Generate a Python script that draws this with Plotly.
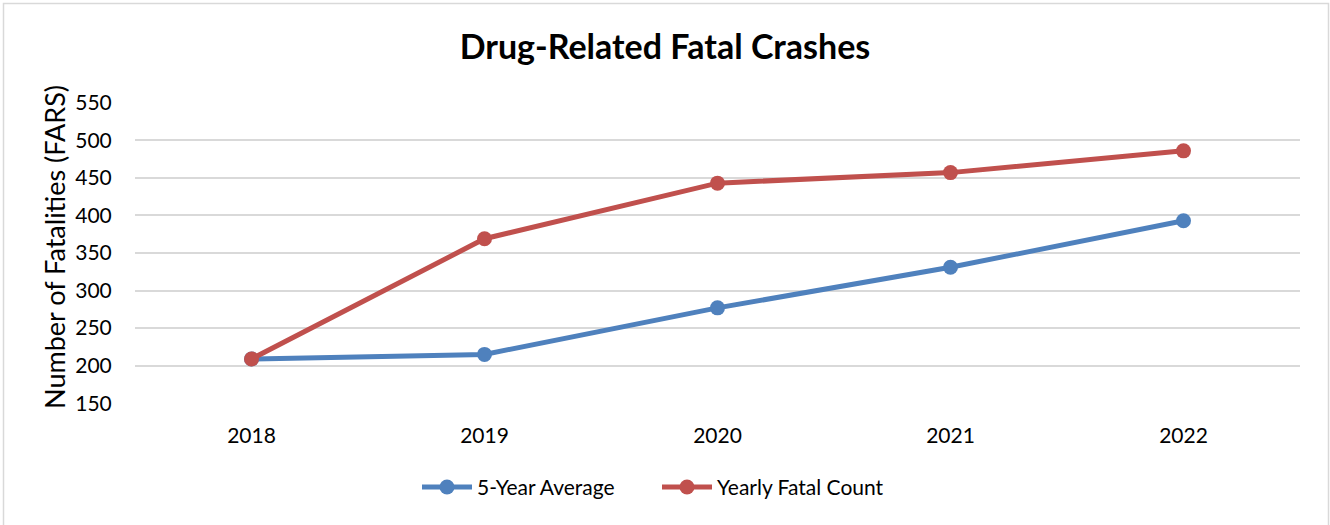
import plotly.graph_objects as go

years = ["2018", "2019", "2020", "2021", "2022"]
five_year_avg = [209, 215, 277, 331, 393]
yearly_count = [209, 369, 443, 457, 486]
y_ticks = [150, 200, 250, 300, 350, 400, 450, 500, 550]

FONT = "Lato"
W, H = 1330, 525
PL, PR, PT, PB = 135, 1300, 103, 403  # plot area pixel box
Y0, Y1 = 149, 551
# extend range slightly so edge gridlines are drawn
ppu = (PB - PT) / 400.0
top_px = PT - (Y1 - 550) * ppu
bot_px = PB + (150 - Y0) * ppu
L, R, T, B = PL, W - PR, top_px, H - bot_px
pw = W - L - R
ph = H - T - B

fig = go.Figure()
fig.add_trace(go.Scatter(
    x=years, y=five_year_avg, name="5-Year Average", mode="lines+markers",
    line=dict(color="#4F81BD", width=5), marker=dict(size=15, color="#4F81BD"),
))
fig.add_trace(go.Scatter(
    x=years, y=yearly_count, name="Yearly Fatal Count", mode="lines+markers",
    line=dict(color="#C0504D", width=5), marker=dict(size=15, color="#C0504D"),
))

def px_x(p):
    return (p - L) / pw

def px_y(p):
    return (H - B - p) / ph

fig.add_shape(type="rect", xref="paper", yref="paper",
              x0=px_x(3.5), x1=px_x(1328.5), y0=px_y(535), y1=px_y(4),
              line=dict(color="#d9d9d9", width=1.5), fillcolor="rgba(0,0,0,0)", layer="below")

fig.add_annotation(text="Number of Fatalities (FARS)", textangle=-90, showarrow=False,
                   xref="paper", yref="paper", x=px_x(55), y=px_y(247),
                   xanchor="center", yanchor="middle", font=dict(size=27, family=FONT, color="#000"))

fig.update_layout(
    width=W, height=H,
    margin=dict(l=L, r=R, t=T, b=B),
    paper_bgcolor="white", plot_bgcolor="white",
    font=dict(family=FONT, color="#000000"),
    title=dict(text="<b>Drug-Related Fatal Crashes</b>", x=0.5, xref="container", xanchor="center",
               y=1 - 47 / H, yanchor="middle", font=dict(size=34, family=FONT, color="#000")),
    showlegend=True,
    legend=dict(orientation="h", x=px_x(657), xanchor="center", y=px_y(487), yanchor="middle",
                font=dict(size=21, family=FONT), tracegroupgap=0, itemwidth=50,
                entrywidth=175, entrywidthmode="pixels"),
)
fig.update_xaxes(
    type="category", range=[-0.5, 4.5], showgrid=False, showline=False, zeroline=False,
    tickfont=dict(size=21, family=FONT), ticks="outside", ticklen=13, tickcolor="rgba(0,0,0,0)",
)
fig.update_yaxes(
    range=[Y0, Y1], tickvals=y_ticks, showgrid=True, gridcolor="#d9d9d9", gridwidth=1.5,
    zeroline=False, showline=False,
    tickfont=dict(size=21, family=FONT), ticks="outside", ticklen=18, tickcolor="rgba(0,0,0,0)",
)

fig.write_html("out.html", config={"displayModeBar": False},
               post_script="document.body.style.margin='0';document.body.style.overflow='hidden';")
